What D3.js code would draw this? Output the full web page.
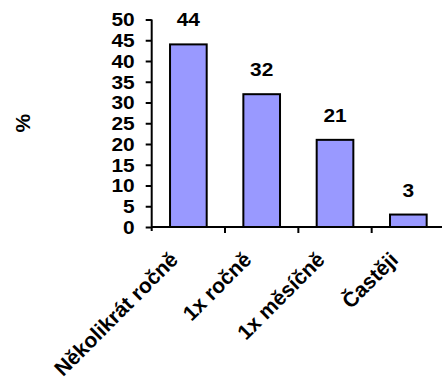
<!DOCTYPE html>
<html>
<head>
<meta charset="utf-8">
<script src="https://cdn.jsdelivr.net/npm/d3@7/dist/d3.min.js"></script>
<style>
  html, body { margin: 0; padding: 0; background: #fff; }
  svg { display: block; }
  text { font-family: "Liberation Sans", Arial, sans-serif; font-weight: bold; fill: #000; }
</style>
</head>
<body>
<svg id="chart" width="442" height="381"></svg>
<script>
// Frequency categories and their shares in percent
const categories = ["Několikrát ročně", "1x ročně", "1x měsíčně", "Častěji"];
const values = [44, 32, 21, 3];
const yTicks = [0, 5, 10, 15, 20, 25, 30, 35, 40, 45, 50];
const yTitle = "%";

const svg = d3.select("#chart");
const plotLeft = 151.7, plotRight = 445, plotTop = 19.5, plotBottom = 227;
const stretch = 1.16; // digits are drawn slightly widened

const x = d3.scaleBand().domain(categories).range([plotLeft, plotRight])
  .paddingInner(0.5).paddingOuter(0.25);
const y = d3.scaleLinear().domain([0, 50]).range([plotBottom, plotTop]);
const step = x.step();

// Bars
svg.append("g").selectAll("rect")
  .data(values)
  .join("rect")
  .attr("x", (d, i) => x(categories[i]))
  .attr("y", d => y(d))
  .attr("width", x.bandwidth())
  .attr("height", d => y(0) - y(d))
  .attr("fill", "#9999FF")
  .attr("stroke", "#000")
  .attr("stroke-width", 2);

// Value labels above each bar
svg.append("g").selectAll("text")
  .data(values)
  .join("text")
  .attr("transform", (d, i) => `translate(${x(categories[i]) + x.bandwidth() / 2},${y(d) - 18}) scale(${stretch},1)`)
  .attr("text-anchor", "middle")
  .attr("font-size", 18)
  .text(d => d);

// Y axis
const yAxis = svg.append("g")
  .attr("transform", `translate(${plotLeft},0)`)
  .call(d3.axisLeft(y).tickValues(yTicks).tickSize(6).tickSizeOuter(0).tickPadding(10));
yAxis.select(".domain").attr("stroke", "#000").attr("stroke-width", 2)
  .attr("d", `M0,${plotTop}V${plotBottom + 4}`);
yAxis.selectAll(".tick line").attr("stroke", "#000").attr("stroke-width", 2);
yAxis.selectAll(".tick text")
  .attr("font-size", 18)
  .attr("font-family", "Liberation Sans, Arial, sans-serif")
  .attr("font-weight", "bold")
  .attr("fill", "#000")
  .attr("x", null)
  .attr("dy", "0.36em")
  .attr("transform", `translate(-17,0) scale(${stretch},1)`);

// X axis: ticks between categories, labels rotated
const xAxis = svg.append("g")
  .attr("transform", `translate(0,${plotBottom})`)
  .call(d3.axisBottom(x).tickSize(6).tickSizeOuter(0).tickPadding(0));
xAxis.select(".domain").attr("stroke", "#000").attr("stroke-width", 2)
  .attr("d", `M${plotLeft},0H${plotRight}`);
xAxis.selectAll(".tick line").attr("stroke", "#000").attr("stroke-width", 2)
  .attr("transform", `translate(${step / 2},0)`);
xAxis.selectAll(".tick text")
  .attr("font-size", 21)
  .attr("font-family", "Liberation Sans, Arial, sans-serif")
  .attr("font-weight", "bold")
  .attr("fill", "#000")
  .attr("y", null).attr("dy", null)
  .attr("text-anchor", "end")
  .attr("transform", "translate(-9,34) rotate(-45)");

// Y axis title
svg.append("text")
  .attr("transform", `translate(30,${(plotTop + plotBottom) / 2}) rotate(-90)`)
  .attr("text-anchor", "middle")
  .attr("font-size", 21)
  .text(yTitle);
</script>
</body>
</html>
